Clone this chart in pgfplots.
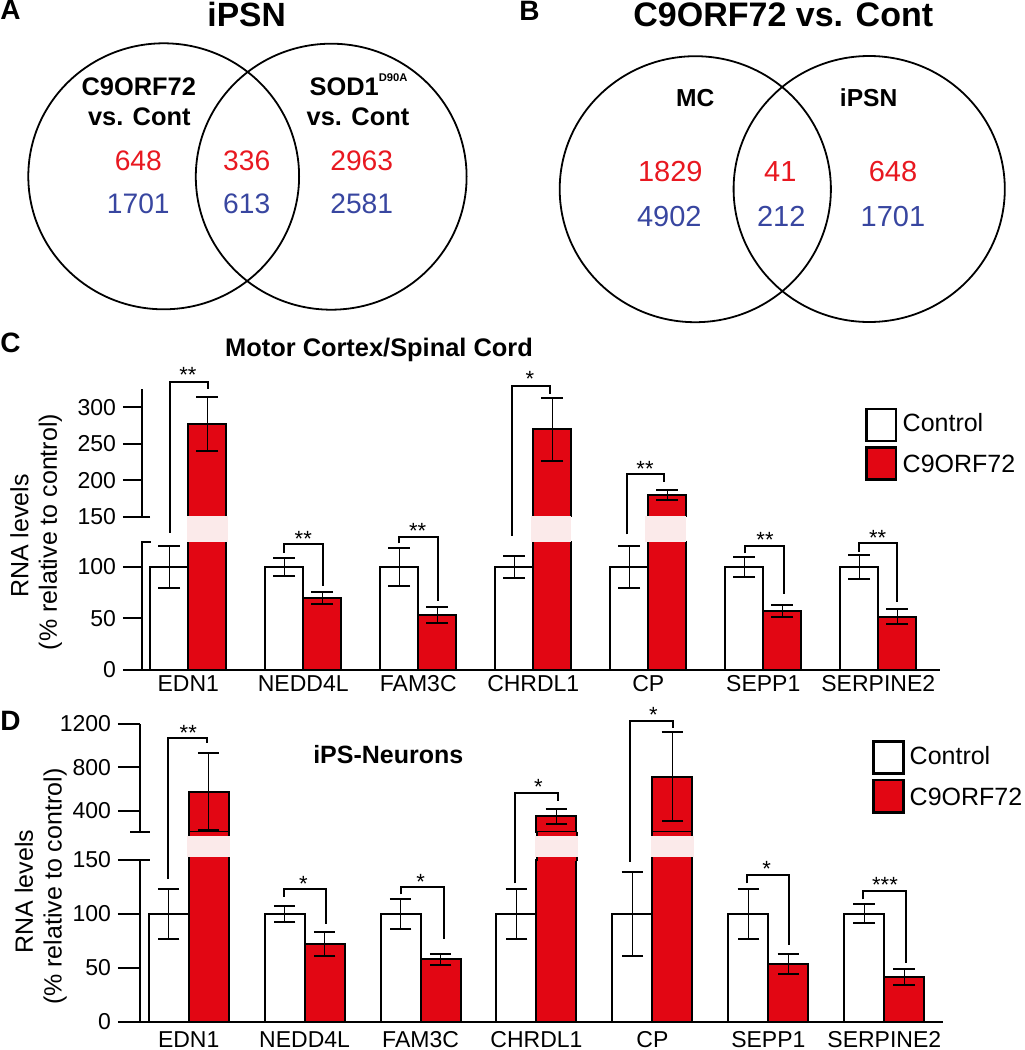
\documentclass[border=0pt]{standalone}
\usepackage{fontspec}
\setmainfont{Liberation Sans}
\usepackage{pgfplots}
\usepackage{pgfplotstable}
\pgfplotsset{compat=1.18}

\definecolor{barred}{RGB}{226,6,19}
\definecolor{numred}{RGB}{232,24,32}
\definecolor{numblue}{RGB}{56,70,160}
\definecolor{gappink}{RGB}{251,234,234}

\newcommand{\fs}[1]{\fontsize{#1}{#1}\selectfont}
% significance bracket: x left, y left end, y top, x right, y right end (canvas px)
\newcommand{\bracket}[5]{\draw[line width=1pt] (#1,#2) |- (#4,#3) -- (#4,#5);}
\newcommand{\stars}[3]{\node[anchor=base,inner sep=0pt,font=\fs{11pt}] at (#1,#2) {#3};}
% red bar carried through the panel D axis gap: left edge, right edge
\newcommand{\gapbar}[2]{%
  \fill[barred] (#1,831.5) rectangle (#2,860.5);
  \draw[line width=1pt] (#1,831.5) -- (#1,860.5) (#2,831.5) -- (#2,860.5);
  \fill[gappink] (#1-1.5,835.7) rectangle (#2+1.5,856.7);}

\pgfplotsset{
  % one segment of a broken bar chart
  barpanel/.style={
    anchor=south west, scale only axis,
    axis x line*=bottom, axis y line*=left, axis line style={draw=none},
    xtick style={draw=none}, ytick style={black,line width=1pt},
    tick align=outside,
    ticklabel style={font=\fs{11.5pt}},
    /pgf/number format/assume math mode=true,
    /pgf/number format/1000 sep={},
    xticklabel style={anchor=base},
    ybar,
  },
  lowerseg/.style={xtick={0,...,6}, xticklabels={EDN1,NEDD4L,FAM3C,CHRDL1,CP,SEPP1,SERPINE2}},
  upperseg/.style={xtick=\empty},
  errs/.style={
    error bars/y dir=both, error bars/y explicit,
    error bars/error mark options={rotate=90, line width=1pt, mark size=5.4pt}},
  ctrlbar/.style={fill=white, draw=black, line width=1pt, errs},
  c9bar/.style={fill=barred, draw=black, line width=1pt, errs},
}

% Motor cortex / spinal cord
\pgfplotstableread{
x y e
0 100 20
1 100 8.5
2 100 18
3 100 11
4 100 20.5
5 100 9.7
6 100 12
}\ctrlC
\pgfplotstableread{
x y e
0 277 37
1 69.6 5.8
2 53.4 7.5
3 270 43
4 179.6 7
5 57.3 5.6
6 51.7 7.3
}\cnineC
% iPS neurons
\pgfplotstableread{
x y e
0 100 23
1 100 7.4
2 100 13.7
3 100 23.4
4 100 39
5 100 23.4
6 100 8.8
}\ctrlD
\pgfplotstableread{
x y e
0 575 358
1 71.8 11
2 57.9 5
3 348 68
4 713 412
5 53.5 9
6 41.2 7.6
}\cnineD

\begin{document}
\begin{tikzpicture}

% panel C, lower segment
\begin{axis}[barpanel, lowerseg, at={(70.85pt,190pt)}, width=399.15pt, height=64.375pt,
  xmin=-0.405, xmax=6.537, ymin=0, ymax=125, bar width=19pt, major tick length=9.35pt,
  ytick={0,50,100}, xticklabel style={yshift=-1.5pt}]
\addplot[ctrlbar, bar shift=-9.5pt] table[x=x, y=y, y error=e] {\ctrlC};
\addplot[c9bar, bar shift=9.5pt] table[x=x, y=y, y error=e] {\cnineC};
\end{axis}
% panel C, upper segment
\begin{axis}[barpanel, upperseg, at={(70.85pt,266.5pt)}, width=399.15pt, height=63.85pt,
  xmin=-0.405, xmax=6.537, ymin=150, ymax=324.6, bar width=19pt, major tick length=9.35pt,
  ytick={150,200,250,300}, restrict y to domain=150:400]
\addplot[ctrlbar, bar shift=-9.5pt] table[x=x, y=y, y error=e] {\ctrlC};
\addplot[c9bar, bar shift=9.5pt] table[x=x, y=y, y error=e] {\cnineC};
\end{axis}

% panel D, lower segment
\begin{axis}[barpanel, lowerseg, at={(70pt,14.15pt)}, width=401.65pt, height=80.85pt,
  xmin=-0.42, xmax=6.509, ymin=0, ymax=150, bar width=20pt, major tick length=11pt,
  ytick={0,50,100,150}, xticklabel style={yshift=-2.15pt}]
\addplot[ctrlbar, bar shift=-10pt] table[x=x, y=y, y error=e] {\ctrlD};
\addplot[c9bar, bar shift=10pt] table[x=x, y=y, y error=e] {\cnineD};
\end{axis}
% panel D, upper segment
\begin{axis}[barpanel, upperseg, at={(70pt,108.85pt)}, width=401.65pt, height=54.15pt,
  xmin=-0.42, xmax=6.509, ymin=200, ymax=1200, bar width=20pt, major tick length=11pt,
  ytick={400,800,1200}, restrict y to domain=200:1300]
\addplot[ctrlbar, bar shift=-10pt] table[x=x, y=y, y error=e] {\ctrlD};
\addplot[c9bar, bar shift=10pt] table[x=x, y=y, y error=e] {\cnineD};
\end{axis}

% canvas in image pixels for Venn diagrams and annotations
\begin{axis}[at={(0pt,0pt)}, anchor=south west, scale only axis, width=512pt, height=525pt,
  xmin=0, xmax=1024, ymin=0, ymax=1050, y dir=reverse, hide axis, clip=false]

% panel letters and titles
\node[anchor=base west,inner sep=0pt,font=\bfseries\fs{14pt}] at (0,19.5) {A};
\node[anchor=base west,inner sep=0pt,font=\bfseries\fs{14pt}] at (519,20.5) {B};
\node[anchor=base west,inner sep=0pt,font=\bfseries\fs{14pt}] at (0,352.7) {C};
\node[anchor=base west,inner sep=0pt,font=\bfseries\fs{14pt}] at (0,730) {D};
\node[anchor=base,inner sep=0pt,font=\bfseries\fs{16.8pt}] at (246.7,26.7) {iPSN};
\node[anchor=base,inner sep=0pt,font=\bfseries\fs{17pt}] at (783.3,26.5) {C9ORF72 vs. Cont};
\node[anchor=base,inner sep=0pt,font=\bfseries\fs{12.7pt}] at (379,356) {Motor Cortex/Spinal Cord};
\node[anchor=base,inner sep=0pt,font=\bfseries\fs{12.5pt}] at (388.3,763.3) {iPS-Neurons};

% Venn A
\draw[line width=0.9pt] (163.7,176.3) ellipse [x radius=135.4, y radius=133];
\draw[line width=0.9pt] (331.2,176.7) ellipse [x radius=135.4, y radius=133];
\node[anchor=base,inner sep=0pt,font=\bfseries\fs{12.7pt}] at (138.8,95) {C9ORF72};
\node[anchor=base,inner sep=0pt,font=\bfseries\fs{12.7pt}] at (139.3,125) {vs. Cont};
\node[anchor=base,inner sep=0pt,font=\bfseries\fs{12.7pt}] at (358.5,95) {SOD1\raisebox{6.6pt}{\fs{5.6pt}D90A}};
\node[anchor=base,inner sep=0pt,font=\bfseries\fs{12.7pt}] at (358,125) {vs. Cont};
\node[anchor=base,inner sep=0pt,font=\fs{14.1pt},text=numred] at (138.3,170) {648};
\node[anchor=base,inner sep=0pt,font=\fs{14.1pt},text=numblue] at (138.3,213.3) {1701};
\node[anchor=base,inner sep=0pt,font=\fs{14.1pt},text=numred] at (246.7,170) {336};
\node[anchor=base,inner sep=0pt,font=\fs{14.1pt},text=numblue] at (246.7,213.3) {613};
\node[anchor=base,inner sep=0pt,font=\fs{14.1pt},text=numred] at (361.7,170) {2963};
\node[anchor=base,inner sep=0pt,font=\fs{14.1pt},text=numblue] at (361.7,213.3) {2581};

% Venn B
\draw[line width=0.9pt] (695.3,189.2) ellipse [x radius=135.6, y radius=133];
\draw[line width=0.9pt] (869.2,189) ellipse [x radius=135.6, y radius=133];
\node[anchor=base,inner sep=0pt,font=\bfseries\fs{12.3pt}] at (695.3,106.7) {MC};
\node[anchor=base,inner sep=0pt,font=\bfseries\fs{12.3pt}] at (868.7,106.7) {iPSN};
\node[anchor=base,inner sep=0pt,font=\fs{14.5pt},text=numred] at (670.3,181.7) {1829};
\node[anchor=base,inner sep=0pt,font=\fs{14.5pt},text=numblue] at (669.3,226) {4902};
\node[anchor=base,inner sep=0pt,font=\fs{14.5pt},text=numred] at (780.3,181.7) {41};
\node[anchor=base,inner sep=0pt,font=\fs{14.5pt},text=numblue] at (781.3,226) {212};
\node[anchor=base,inner sep=0pt,font=\fs{14.5pt},text=numred] at (893,181.7) {648};
\node[anchor=base,inner sep=0pt,font=\fs{14.5pt},text=numblue] at (893,226) {1701};

% y labels
\node[rotate=90,anchor=base,inner sep=0pt,font=\fs{12.5pt}] at (28.3,536) {RNA levels};
\node[rotate=90,anchor=base,inner sep=0pt,font=\fs{12.5pt}] at (56.9,532) {(\% relative to control)};
\node[rotate=90,anchor=base,inner sep=0pt,font=\fs{12.5pt}] at (33,891.7) {RNA levels};
\node[rotate=90,anchor=base,inner sep=0pt,font=\fs{12.5pt}] at (61.7,886.7) {(\% relative to control)};

% broken axis lines
\draw[line width=1pt] (141.7,670) -- (141.7,541.7) -- (151,541.7);
\draw[line width=1pt] (150,517) -- (141.7,517) -- (141.7,389.3);
\draw[line width=1pt] (123,670) -- (940,670);
\draw[line width=1pt] (140,1021.7) -- (140,860) -- (150,860);
\draw[line width=1pt] (130,832.3) -- (150,832.3);
\draw[line width=1pt] (140,832.3) -- (140,724);
\draw[line width=1pt] (118,1021.7) -- (943.3,1021.7);

% tall bars carried through the axis gap, with the pale break band
\fill[gappink] (187.3,515.8) rectangle (228.3,541.7);
\fill[gappink] (530.7,515.8) rectangle (571,541.7);
\fill[gappink] (645,515.8) rectangle (685.7,541.7);
\gapbar{188.7}{228.7}
\gapbar{536.5}{576.5}
\gapbar{652.4}{692.4}

% significance, panel C
\bracket{169.5}{532.7}{381.7}{208.3}{389.3}
\bracket{284.3}{552.7}{544.3}{322.7}{586}
\bracket{399}{543.3}{536.7}{437.7}{600.7}
\bracket{512.3}{535.7}{385.7}{550}{394}
\bracket{626.7}{534.3}{474.3}{664}{481.7}
\bracket{745}{553.3}{545.7}{784.3}{594.3}
\bracket{859}{551.7}{543}{897.3}{602.3}
\stars{188}{382.8}{**}
\stars{303.3}{546.8}{**}
\stars{417.7}{538.5}{**}
\stars{530}{386.8}{*}
\stars{645}{476.1}{**}
\stars{765}{547.8}{**}
\stars{877.7}{545.5}{**}

% significance, panel D
\bracket{168.3}{879}{737.7}{207.3}{743.3}
\bracket{283.7}{896.7}{889.3}{325.7}{924}
\bracket{400.7}{894.3}{887}{444}{938.7}
\bracket{515}{883.3}{793.3}{558.3}{800.7}
\bracket{630.3}{861.7}{720.7}{673.3}{728.3}
\bracket{747}{883.3}{875}{789.3}{945}
\bracket{862.7}{899.3}{890.7}{905.7}{963.3}
\stars{188.3}{740.1}{**}
\stars{303.3}{891.8}{*}
\stars{420.7}{889.5}{*}
\stars{538.3}{794.5}{*}
\stars{653.3}{722.8}{*}
\stars{766.7}{876.8}{*}
\stars{885}{892.8}{***}

% legends
\draw[line width=1.4pt] (866.7,409) rectangle (896,441);
\draw[line width=1.4pt, fill=barred] (866.7,447.7) rectangle (896,479.3);
\node[anchor=base west,inner sep=0pt,font=\fs{12.5pt}] at (902.3,431.7) {Control};
\node[anchor=base west,inner sep=0pt,font=\fs{12.5pt}] at (902.3,472.7) {C9ORF72};
\draw[line width=1.4pt] (873.3,741.7) rectangle (903.3,773.3);
\draw[line width=1.4pt, fill=barred] (873.3,780) rectangle (903.3,812.7);
\node[anchor=base west,inner sep=0pt,font=\fs{12.5pt}] at (909.3,764) {Control};
\node[anchor=base west,inner sep=0pt,font=\fs{12.5pt}] at (909.3,805) {C9ORF72};
\end{axis}

\pgfresetboundingbox
\path[use as bounding box] (0,0) rectangle (512pt,525pt);
\end{tikzpicture}
\end{document}
